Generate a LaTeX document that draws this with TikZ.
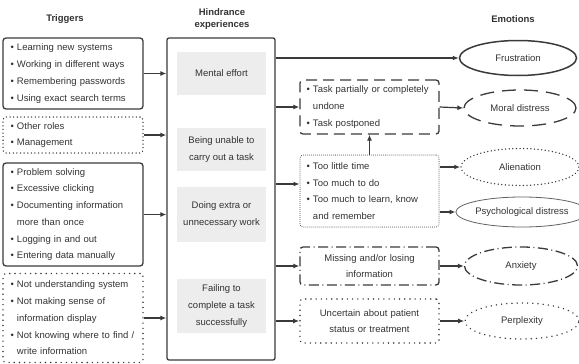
\documentclass[tikz,border=0pt]{standalone}
\usepackage{fontspec}
\setmainfont{Liberation Sans}
\usetikzlibrary{shapes.geometric,arrows.meta}
\definecolor{lc}{HTML}{3A3A3A}
\definecolor{tc}{HTML}{333333}
\definecolor{gf}{HTML}{EDEDED}
\begin{document}
\begin{tikzpicture}[x=1pt,y=-1pt,
  every node/.style={text=tc},
  txt/.style={font=\fontsize{9.5}{16.7}\selectfont},
  ttl/.style={font=\fontsize{9.5}{12}\selectfont\bfseries, align=center},
  base/.style={draw=lc, line width=1.3pt, rounded corners=3pt, txt, align=left, inner ysep=0pt},
  trig/.style={base, minimum width=140pt, text width=125pt, inner xsep=7.5pt},
  rbox/.style={base, minimum width=139pt, text width=126pt, inner xsep=6.5pt},
  gbox/.style={fill=gf, minimum width=89pt, txt, align=center, inner sep=0pt},
  emo/.style={ellipse, draw=lc, line width=1.3pt, txt, inner sep=0pt},
  dotsA/.style={dash pattern=on 0.01pt off 3.6pt, line cap=round, line width=1.5pt},
  dotsB/.style={dash pattern=on 0.01pt off 5.2pt, line cap=round, line width=1.6pt},
  dotsC/.style={dash pattern=on 0.01pt off 2pt, line cap=round, line width=1pt},
  dashA/.style={dash pattern=on 11pt off 6pt},
  dashB/.style={dash pattern=on 14pt off 8pt},
  dashdot/.style={dash pattern=on 10pt off 3.5pt on 1pt off 3.5pt},
  arr/.style={draw=lc, line width=1.2pt, -{Latex[length=6pt,width=5pt]}}
]
\useasboundingbox (0,0) rectangle (579,364);
% titles
\node[ttl] (t1) at (65,19) {Triggers};
\node[ttl] (t2) at (222,19) {Hindrance\\experiences};
\node[ttl] (t3) at (513,19) {Emotions};
% trigger boxes
\node[trig, minimum height=71pt] (B1) at (73,73.5) {\textbullet\ Learning new systems\\\textbullet\ Working in different ways\\\textbullet\ Remembering passwords\\\textbullet\ Using exact search terms};
\node[trig, dotsA, minimum height=36pt] (B2) at (73,135) {\textbullet\ Other roles\\\textbullet\ Management};
\node[trig, minimum height=103pt] (B3) at (73,214.5) {\textbullet\ Problem solving\\\textbullet\ Excessive clicking\\\textbullet\ Documenting information\\\phantom{\textbullet\ }more than once\\\textbullet\ Logging in and out\\\textbullet\ Entering data manually};
\node[trig, dotsB, minimum height=89pt] (B4) at (73,318) {\textbullet\ Not understanding system\\\textbullet\ Not making sense of\\\phantom{\textbullet\ }information display\\\textbullet\ Not knowing where to find /\\\phantom{\textbullet\ }write information};
% hindrance box
\node[draw=lc, line width=1.3pt, rounded corners=2pt, minimum width=108pt, minimum height=322pt, inner sep=0pt] (H) at (221,199) {};
\node[gbox, minimum height=43pt] (G1) at (221.5,73.5) {Mental effort};
\node[gbox, minimum height=43pt] (G2) at (221.5,149.5) {Being unable to\\carry out a task};
\node[gbox, minimum height=55pt] (G3) at (221.5,214.5) {Doing extra or\\unnecessary work};
\node[gbox, minimum height=54pt] (G4) at (221.5,306) {Failing to\\complete a task\\successfully};
% right boxes
\node[rbox, dashA, minimum height=54pt] (T) at (369.5,107) {\textbullet\ Task partially or completely\\\phantom{\textbullet\ }undone\\\textbullet\ Task postponed};
\node[rbox, dotsC, minimum height=72pt] (L) at (369.5,191) {\textbullet\ Too little time\\\textbullet\ Too much to do\\\textbullet\ Too much to learn, know\\\phantom{\textbullet\ }and remember};
\node[rbox, dashdot, minimum height=38pt, align=center] (M) at (369.5,266) {Missing and/or losing\\information};
\node[rbox, dotsB, minimum height=44pt, align=center] (U) at (369.5,321) {Uncertain about patient\\status or treatment};
% emotions
\node[emo, line width=1.5pt, minimum width=117pt, minimum height=35pt] (F) at (518,58) {Frustration};
\node[emo, dashB, minimum width=112pt, minimum height=36pt] (MD) at (520,108) {Moral distress};
\node[emo, dotsA, minimum width=118pt, minimum height=37pt] (A) at (520,167) {Alienation};
\node[emo, line width=0.8pt, draw=lc!80, minimum width=113pt, minimum height=30pt] (P) at (522,212) {Psychological distress};
\node[emo, dashdot, minimum width=113pt, minimum height=38pt] (X) at (521,266) {Anxiety};
\node[emo, dotsB, minimum width=114pt, minimum height=36pt] (PX) at (522,321) {Perplexity};
% arrows triggers -> hindrance
\draw[arr] (B1.east) -- (B1.east -| H.west);
\draw[arr] (B2.east) -- (B2.east -| H.west);
\draw[arr] (B3.east) -- (B3.east -| H.west);
\draw[arr] (B4.east) -- (B4.east -| H.west);
% hindrance -> right
\draw[arr] (F.west -| H.east) -- (F.west);
\draw[arr] (T.west -| H.east) -- (T.west);
\draw[arr] ([yshift=7pt]L.west -| H.east) -- ([yshift=7pt]L.west);
\draw[arr] (M.west -| H.east) -- (M.west);
\draw[arr] (U.west -| H.east) -- (U.west);
% right boxes -> emotions
\draw[arr] (T.east) -- (MD.west);
\draw[arr] (L.north) -- (T.south);
\draw[arr] (L.east |- A.west) -- (A.west);
\draw[arr] (L.east |- P.west) -- (P.west);
\draw[arr] (M.east) -- (X.west);
\draw[arr] (U.east) -- (PX.west);
\end{tikzpicture}
\end{document}
